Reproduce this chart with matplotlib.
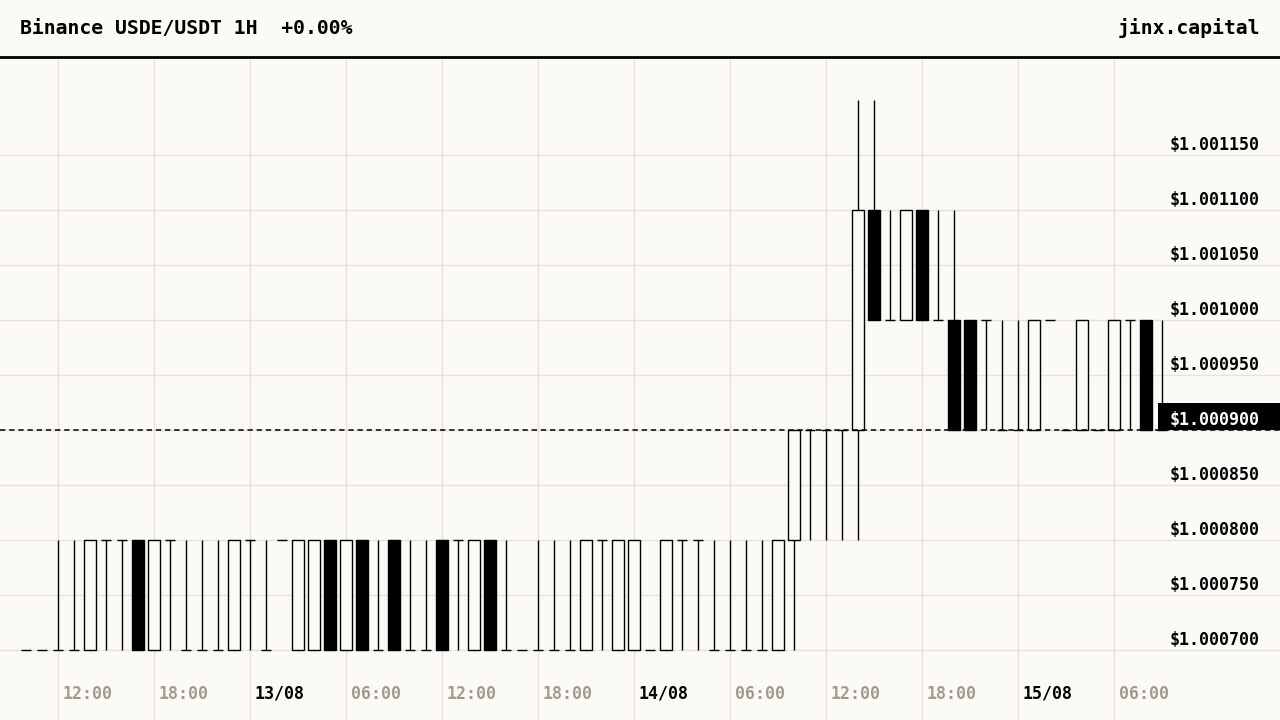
import matplotlib
matplotlib.use("Agg")
import matplotlib.pyplot as plt
import matplotlib.transforms as mtransforms
from matplotlib.lines import Line2D
from matplotlib.patches import Rectangle

# hourly candles, hour offsets relative to 12/08 12:00 (10:00 12/08 .. 09:00 15/08)
hours = list(range(-2, 70))

opens = [
    1.0007, 1.0007, 1.0007, 1.0007, 1.0007, 1.0008, 1.0008, 1.0008, 1.0007, 1.0008, 1.0007, 1.0007,
    1.0007, 1.0007, 1.0008, 1.0007, 1.0008, 1.0007, 1.0007, 1.0008, 1.0007, 1.0008, 1.0007, 1.0008,
    1.0007, 1.0007, 1.0008, 1.0008, 1.0007, 1.0008, 1.0007, 1.0007, 1.0007, 1.0007, 1.0007, 1.0007,
    1.0008, 1.0007, 1.0007, 1.0007, 1.0007, 1.0008, 1.0008, 1.0007, 1.0007, 1.0007, 1.0007, 1.0007,
    1.0008, 1.0009, 1.0009, 1.0009, 1.0009, 1.0011, 1.0010, 1.0010, 1.0011, 1.0010, 1.0010, 1.0010,
    1.0010, 1.0009, 1.0009, 1.0009, 1.0010, 1.0009, 1.0009, 1.0009, 1.0009, 1.0010, 1.0010, 1.0009,
]
highs = [
    1.0007, 1.0007, 1.0008, 1.0008, 1.0008, 1.0008, 1.0008, 1.0008, 1.0008, 1.0008, 1.0008, 1.0008,
    1.0008, 1.0008, 1.0008, 1.0008, 1.0008, 1.0008, 1.0008, 1.0008, 1.0008, 1.0008, 1.0008, 1.0008,
    1.0008, 1.0008, 1.0008, 1.0008, 1.0008, 1.0008, 1.0008, 1.0007, 1.0008, 1.0008, 1.0008, 1.0008,
    1.0008, 1.0008, 1.0008, 1.0007, 1.0008, 1.0008, 1.0008, 1.0008, 1.0008, 1.0008, 1.0008, 1.0008,
    1.0009, 1.0009, 1.0009, 1.0009, 1.0012, 1.0012, 1.0011, 1.0011, 1.0011, 1.0011, 1.0011, 1.0010,
    1.0010, 1.0010, 1.0010, 1.0010, 1.0010, 1.0009, 1.0010, 1.0009, 1.0010, 1.0010, 1.0010, 1.0010,
]
lows = [
    1.0007, 1.0007, 1.0007, 1.0007, 1.0007, 1.0007, 1.0007, 1.0007, 1.0007, 1.0007, 1.0007, 1.0007,
    1.0007, 1.0007, 1.0007, 1.0007, 1.0008, 1.0007, 1.0007, 1.0007, 1.0007, 1.0007, 1.0007, 1.0007,
    1.0007, 1.0007, 1.0007, 1.0007, 1.0007, 1.0007, 1.0007, 1.0007, 1.0007, 1.0007, 1.0007, 1.0007,
    1.0007, 1.0007, 1.0007, 1.0007, 1.0007, 1.0007, 1.0007, 1.0007, 1.0007, 1.0007, 1.0007, 1.0007,
    1.0007, 1.0008, 1.0008, 1.0008, 1.0008, 1.0010, 1.0010, 1.0010, 1.0010, 1.0010, 1.0009, 1.0009,
    1.0009, 1.0009, 1.0009, 1.0009, 1.0010, 1.0009, 1.0009, 1.0009, 1.0009, 1.0009, 1.0009, 1.0009,
]
closes = [
    1.0007, 1.0007, 1.0007, 1.0007, 1.0008, 1.0008, 1.0008, 1.0007, 1.0008, 1.0008, 1.0007, 1.0007,
    1.0007, 1.0008, 1.0008, 1.0007, 1.0008, 1.0008, 1.0008, 1.0007, 1.0008, 1.0007, 1.0007, 1.0007,
    1.0007, 1.0007, 1.0007, 1.0008, 1.0008, 1.0007, 1.0007, 1.0007, 1.0007, 1.0007, 1.0007, 1.0008,
    1.0008, 1.0008, 1.0008, 1.0007, 1.0008, 1.0008, 1.0008, 1.0007, 1.0007, 1.0007, 1.0007, 1.0008,
    1.0009, 1.0009, 1.0009, 1.0009, 1.0011, 1.0010, 1.0010, 1.0011, 1.0010, 1.0010, 1.0009, 1.0009,
    1.0010, 1.0009, 1.0009, 1.0010, 1.0010, 1.0009, 1.0010, 1.0009, 1.0010, 1.0010, 1.0009, 1.0009,
]

price_levels = [1.00070, 1.00075, 1.00080, 1.00085, 1.00090,
                1.00095, 1.00100, 1.00105, 1.00110, 1.00115]
time_ticks = [0, 6, 12, 18, 24, 30, 36, 42, 48, 54, 60, 66]
time_labels = ["12:00", "18:00", "13/08", "06:00", "12:00", "18:00",
               "14/08", "06:00", "12:00", "18:00", "15/08", "06:00"]

title = "Binance USDE/USDT 1H  +0.00%"
brand = "jinx.capital"

BG = "#fcfaf5"
GRID = "#e6e1da"
GREY = "#a09a93"
FONT = "DejaVu Sans Mono"

W, H = 1280, 720
fig = plt.figure(figsize=(12.8, 7.2), dpi=100, facecolor=BG)
top_px = 57
ax = fig.add_axes([0, 0, 1, (H - top_px) / H], facecolor=BG)

# pixel layout of the plot: 16 px per hour, 55 px per 0.00005
px_hour = 16.0
x_origin = 58.0
px_per_price = 55 / 0.00005
base_y = 650
ax.set_xlim(-x_origin / px_hour, (W - x_origin) / px_hour)
ax.set_ylim(1.0007 - (H - base_y) / px_per_price,
            1.0007 + (base_y - top_px) / px_per_price)

ax.set_xticks(time_ticks)
ax.set_yticks(price_levels)
ax.grid(True, color=GRID, lw=1, zorder=0)
ax.tick_params(length=0, labelbottom=False, labelleft=False)
for s in ax.spines.values():
    s.set_visible(False)

# candles
for h, o, hi, lo, c in zip(hours, opens, highs, lows, closes):
    if hi > lo:
        ax.vlines(h, lo, hi, color="black", lw=1, zorder=2)
    if c != o:
        face = BG if c > o else "black"
        ax.bar(h, abs(c - o), bottom=min(o, c), width=0.7, facecolor=face,
               edgecolor="black", lw=1, zorder=3)
    else:
        ax.hlines(o, h - 0.33, h + 0.33, color="black", lw=1, zorder=3)

last = closes[-1]
ax.axhline(last, color="black", lw=1.1, ls=(0, (3.5, 2.5)), zorder=4)

# price labels on the right
yblend = mtransforms.blended_transform_factory(ax.transAxes, ax.transData)
ylab_tr = mtransforms.offset_copy(yblend, fig=fig, y=5, units="dots")
for p in price_levels:
    if abs(p - last) < 1e-9:
        continue
    ax.text(1260 / W, p, f"${p:.6f}", transform=ylab_tr, ha="right",
            va="baseline", fontsize=12, fontweight="bold", family=FONT,
            color="black", zorder=5)

box_h = 27 / px_per_price
ax.add_patch(Rectangle((1158 / W, last), 1 - 1158 / W, box_h, transform=yblend,
                       facecolor="black", edgecolor="none", zorder=6))
ax.text(1260 / W, last, f"${last:.6f}", transform=ylab_tr, ha="right",
        va="baseline", fontsize=12, fontweight="bold", family=FONT,
        color="white", zorder=7)

# time labels
xblend = mtransforms.blended_transform_factory(ax.transData, ax.transAxes)
xlab_tr = mtransforms.offset_copy(xblend, fig=fig, x=5, units="dots")
for t, lab in zip(time_ticks, time_labels):
    col = "black" if "/" in lab else GREY
    ax.text(t, (H - 694) / (H - top_px), lab, transform=xlab_tr, ha="left",
            va="center", fontsize=12, fontweight="bold", family=FONT, color=col)

# header
fig.text(20 / W, 1 - 28 / H, title, ha="left", va="center", fontsize=14.2,
         fontweight="bold", family=FONT, color="black")
fig.text(1260 / W, 1 - 28 / H, brand, ha="right", va="center", fontsize=14.2,
         fontweight="bold", family=FONT, color="black")
fig.add_artist(Line2D([0, 1], [1 - top_px / H, 1 - top_px / H], color="black",
                      lw=2, transform=fig.transFigure))

fig.savefig("out.png", dpi=100, facecolor=BG)
